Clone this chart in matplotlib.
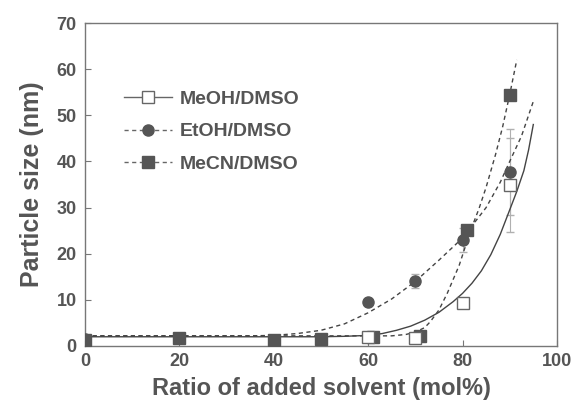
''' Particle size against ratio of added solvent for three solvent pairs. '''
import matplotlib
import matplotlib.pyplot as plt

matplotlib.use('Agg')

plt.rcParams['font.family'] = ['Liberation Sans', 'DejaVu Sans']
plt.rcParams['font.weight'] = 'bold'

TEXT_COLOR = '#555555'
MARK_COLOR = '#555555'
FRAME_COLOR = '#777777'
ERR_COLOR = '#b0b0b0'
DASH = (3, 2.5)

# measured points
meoh_x = [60, 70, 80, 90]
meoh_y = [2.0, 1.7, 9.4, 34.9]
meoh_err = [0, 0, 0, 10.1]

etoh_x = [0, 20, 40, 50, 60, 70, 80, 90]
etoh_y = [1.5, 1.8, 1.4, 1.6, 9.6, 14.1, 23.0, 37.7]
etoh_err = [0, 0, 0, 0, 0, 1.5, 2.6, 9.3]

mecn_x = [0, 20, 40, 50, 61, 71, 81, 90]
mecn_y = [1.3, 1.7, 1.2, 1.5, 2.0, 2.2, 25.2, 54.4]

# fitted curves, sampled along their length
meoh_fit_x = [0, 40, 50, 55, 60, 63, 66, 69, 72, 75, 78, 80, 82, 84, 86, 88, 90, 91.5, 93, 94, 95]
meoh_fit_y = [2.0, 2.0, 2.0, 2.1, 2.3, 2.7, 3.4, 4.3, 5.6, 7.3, 9.6, 11.4, 13.6, 16.3, 19.8, 24.2, 29.5, 33.5, 38.0, 42.5, 48.0]

etoh_fit_x = [0, 20, 35, 40, 45, 50, 55, 60, 65, 70, 75, 80, 85, 88, 90, 92.5, 95]
etoh_fit_y = [2.2, 2.2, 2.2, 2.3, 2.7, 3.4, 4.8, 7.2, 10.2, 14.0, 18.6, 23.4, 30.0, 35.5, 40.0, 45.5, 53.0]

mecn_fit_x = [0, 65, 68, 70, 72, 73.2, 75, 76.8, 79.3, 81.7, 83.5, 85, 87, 88.5, 90, 91.5]
mecn_fit_y = [2.2, 2.2, 2.5, 3.0, 4.0, 5.3, 7.8, 11.5, 17.5, 25.0, 29.8, 34.4, 41.5, 47.5, 54.5, 62.0]

fig = plt.figure(figsize=(5.72, 4.0), dpi=100)
ax = fig.add_axes([0.1486, 0.135, 0.825, 0.8075])

# curves
ax.plot(meoh_fit_x, meoh_fit_y, '-', color='#444444', lw=1.0, zorder=2)
ax.plot(etoh_fit_x, etoh_fit_y, '--', color='#444444', lw=1.0, dashes=DASH, zorder=2)
ax.plot(mecn_fit_x, mecn_fit_y, '--', color='#444444', lw=1.0, dashes=DASH, zorder=2)

# error bars
ax.errorbar(meoh_x, meoh_y, yerr=meoh_err, fmt='none', ecolor=ERR_COLOR,
            elinewidth=0.8, capsize=3, zorder=1)
ax.errorbar(etoh_x, etoh_y, yerr=etoh_err, fmt='none', ecolor=ERR_COLOR,
            elinewidth=0.8, capsize=3, zorder=1)

# markers
ax.plot(etoh_x, etoh_y, 'o', color=MARK_COLOR, ms=8, mec=MARK_COLOR, zorder=3)
ax.plot(mecn_x, mecn_y, 's', color=MARK_COLOR, ms=8, mec=MARK_COLOR, zorder=4)
ax.plot(meoh_x, meoh_y, 's', mfc='white', mec='#666666', mew=1.0, ms=8, zorder=5)

# legend handles
h1, = ax.plot([], [], '-', color='#666666', lw=1.0, marker='s', mfc='white',
              mec='#666666', ms=8)
h2, = ax.plot([], [], '--', color='#666666', lw=1.0, dashes=DASH, marker='o',
              mfc=MARK_COLOR, mec=MARK_COLOR, ms=8)
h3, = ax.plot([], [], '--', color='#666666', lw=1.0, dashes=DASH, marker='s',
              mfc=MARK_COLOR, mec=MARK_COLOR, ms=8)
leg = ax.legend([h1, h2, h3], ['MeOH/DMSO', 'EtOH/DMSO', 'MeCN/DMSO'],
                loc='upper left', bbox_to_anchor=(0.045, 0.845), frameon=False,
                prop={'size': 14, 'weight': 'bold'}, handlelength=2.5,
                handletextpad=0.4, labelspacing=0.75)
for t in leg.get_texts():
    t.set_color(TEXT_COLOR)

ax.set_xlim(0, 100)
ax.set_ylim(0, 70)
ax.set_xticks([0, 20, 40, 60, 80, 100])
ax.set_yticks([0, 10, 20, 30, 40, 50, 60, 70])
ax.tick_params(direction='in', length=4, width=0.8, colors=FRAME_COLOR,
               labelcolor=TEXT_COLOR, labelsize=13)
ax.tick_params(axis='y', pad=6)
ax.tick_params(axis='x', pad=5)
for lab in ax.get_xticklabels() + ax.get_yticklabels():
    lab.set_fontweight('bold')
for s in ax.spines.values():
    s.set_color(FRAME_COLOR)
    s.set_linewidth(1.0)

ax.set_xlabel('Ratio of added solvent (mol%)', fontsize=17, fontweight='bold',
              color=TEXT_COLOR, labelpad=5)
ax.set_ylabel('Particle size (nm)', fontsize=18, fontweight='bold',
              color=TEXT_COLOR, labelpad=9)

fig.savefig('out.png', dpi=100)
